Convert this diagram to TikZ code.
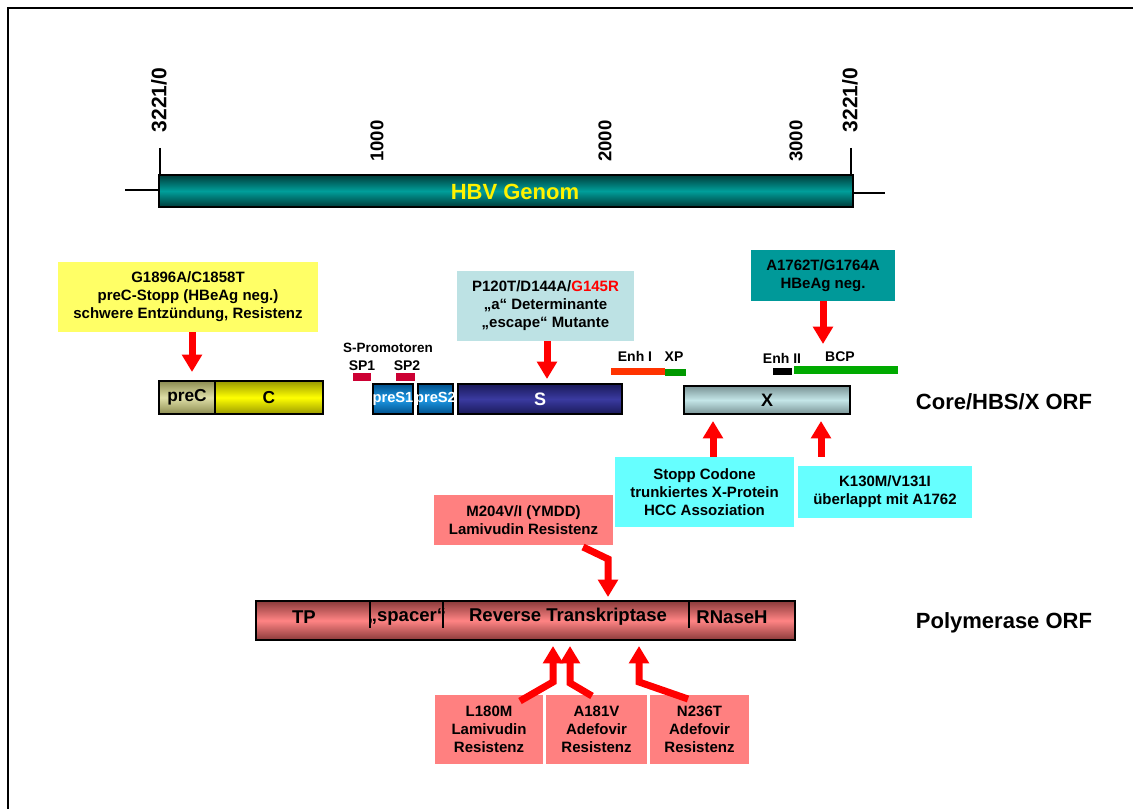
\documentclass[tikz,border=0pt]{standalone}
\usepackage{fontspec}
\setmainfont{Liberation Sans}
\usetikzlibrary{arrows.meta,fit}
\definecolor{genMid}{HTML}{009E9A}
\definecolor{genDark}{HTML}{003C3A}
\definecolor{yelBox}{HTML}{FFFF66}
\definecolor{lbBox}{HTML}{BDE2E4}
\definecolor{tealBox}{HTML}{009999}
\definecolor{cyBox}{HTML}{66FFFF}
\definecolor{pkBox}{HTML}{FF8080}
\definecolor{spRed}{HTML}{CC0033}
\definecolor{enhRed}{HTML}{FF3300}
\definecolor{xpGreen}{HTML}{009900}
\definecolor{bcpGreen}{HTML}{00AA00}
\definecolor{preCmid}{HTML}{E0E0A8}
\definecolor{preCdark}{HTML}{8C8C50}
\definecolor{Cmid}{HTML}{FFFF00}
\definecolor{Cdark}{HTML}{9A9A00}
\definecolor{psMid}{HTML}{1E9AE6}
\definecolor{psDark}{HTML}{00508C}
\definecolor{sMid}{HTML}{3A3AA0}
\definecolor{sDark}{HTML}{1A1A5A}
\definecolor{xMid}{HTML}{C4E6E8}
\definecolor{xDark}{HTML}{7A9496}
\definecolor{polMid}{HTML}{FF8484}
\definecolor{polDark}{HTML}{8A3A3A}
\begin{document}
\begin{tikzpicture}[x=0.75pt,y=-0.75pt,
  lbl/.style={font=\bfseries\fontsize{10.5}{12}\selectfont, inner sep=0},
  mbox/.style={fit={#1}, inner sep=0},
  btxt/.style={inner sep=0, align=center, font=\bfseries\fontsize{11.25}{13.5}\selectfont},
  gbar/.style={fit={#1}, inner sep=0, draw=black, line width=1.1pt},
  gtxt/.style={inner sep=0, font=\bfseries\fontsize{13}{14}\selectfont},
  thinbar/.style={fit={#1}, inner sep=0, draw=none},
  redarrow/.style={draw=red, line width=5.25pt, -{Triangle[width=14.5pt,length=13pt]}},
  ruler/.style={rotate=90, inner sep=0, font=\bfseries\fontsize{13.9}{15}\selectfont},
  orf/.style={inner sep=0, font=\bfseries\fontsize{16.5}{18}\selectfont},
  poltxt/.style={inner sep=0, font=\bfseries\fontsize{13.9}{15}\selectfont},
]
\useasboundingbox (0,0) rectangle (1133,809);
% frame
\draw[line width=1.5pt] (8,809) -- (8,8) -- (1133,8);

% genome bar
\node[gbar={(159,175) (853,207)}, top color=genDark, bottom color=genDark, middle color=genMid] (genome) {};
\node[inner sep=0, text=yellow, font=\bfseries\fontsize{16.5}{18}\selectfont] (genlbl) at (515,192) {HBV Genom};
\coordinate (gl) at (125,190);
\coordinate (gr) at (885,193);
\draw[line width=0.8pt] (gl) -- (gl -| genome.west);
\draw[line width=0.8pt] (gr -| genome.east) -- (gr);
\coordinate (tl) at (160,148);
\coordinate (tr) at (851,148);
\draw[line width=0.9pt] (tl) -- (tl |- genome.north);
\draw[line width=0.9pt] (tr) -- (tr |- genome.north);
\node[ruler, font=\bfseries\fontsize{15.75}{17}\selectfont] (r0) at (159,100) {3221/0};
\node[ruler] (r1) at (377,141) {1000};
\node[ruler] (r2) at (605,141) {2000};
\node[ruler] (r3) at (796,141) {3000};
\node[ruler, font=\bfseries\fontsize{15.75}{17}\selectfont] (r4) at (850,100) {3221/0};

% annotation boxes
\node[mbox={(58,262) (318,332)}, fill=yelBox] (ybox) {};
\node[btxt] (ytxt) at (ybox.center) {G1896A/C1858T\\preC-Stopp (HBeAg neg.)\\schwere Entzündung, Resistenz};
\node[mbox={(457,271) (634,341)}, fill=lbBox] (lbbox) {};
\node[btxt] (lbtxt) at (lbbox.center) {P120T/D144A/\textcolor{red}{G145R}\\„a“ Determinante\\„escape“ Mutante};
\node[mbox={(751,250) (895,301)}, fill=tealBox] (tbox) {};
\node[btxt] (ttxt) at (tbox.center) {A1762T/G1764A\\HBeAg neg.};
\node[mbox={(615,457) (794,527)}, fill=cyBox] (cbox1) {};
\node[btxt] (c1txt) at (cbox1.center) {Stopp Codone\\trunkiertes X-Protein\\HCC Assoziation};
\node[mbox={(798,466) (972,518)}, fill=cyBox] (cbox2) {};
\node[btxt] (c2txt) at (cbox2.center) {K130M/V131I\\überlappt mit A1762};
\node[mbox={(434,495) (613,545)}, fill=pkBox] (mbox) {};
\node[btxt] (mtxt) at (mbox.center) {M204V/I (YMDD)\\Lamivudin Resistenz};
\node[mbox={(435,695) (543,764)}, fill=pkBox] (pb1) {};
\node[btxt] (p1txt) at (pb1.center) {L180M\\Lamivudin\\Resistenz};
\node[mbox={(546,695) (647,764)}, fill=pkBox] (pb2) {};
\node[btxt] (p2txt) at (pb2.center) {A181V\\Adefovir\\Resistenz};
\node[mbox={(650,695) (749,764)}, fill=pkBox] (pb3) {};
\node[btxt] (p3txt) at (pb3.center) {N236T\\Adefovir\\Resistenz};

% ORF row
\node[gbar={(159,381) (215,414)}, top color=preCdark, bottom color=preCdark, middle color=preCmid] (preC) {};
\node[gtxt] (preCt) at (preC.center) {preC};
\node[gbar={(215,381) (323,414)}, top color=Cdark, bottom color=Cdark, middle color=Cmid] (C) {};
\node[gtxt] (Ct) at (C.center) {C};
\node[gbar={(373,384) (413,414)}, top color=psDark, bottom color=psDark, middle color=psMid] (preS1) {};
\node[gtxt, text=white, font=\bfseries\fontsize{11}{12}\selectfont] (preS1t) at (preS1.center) {preS1};
\node[gbar={(418,384) (453,414)}, top color=psDark, bottom color=psDark, middle color=psMid] (preS2) {};
\node[gtxt, text=white, font=\bfseries\fontsize{11}{12}\selectfont] (preS2t) at (preS2.center) {preS2};
\node[gbar={(458,384) (622,414)}, top color=sDark, bottom color=sDark, middle color=sMid] (S) {};
\node[gtxt, text=white, font=\bfseries\fontsize{13.5}{14}\selectfont] (St) at (S.center) {S};
\node[gbar={(684,386) (850,414)}, top color=xDark, bottom color=xDark, middle color=xMid] (X) {};
\node[gtxt, font=\bfseries\fontsize{13.5}{14}\selectfont] (Xt) at (X.center) {X};

\node[lbl, font=\bfseries\fontsize{10.1}{12}\selectfont] (sprom) at (388,348) {S-Promotoren};
\node[lbl] (sp1l) at (362,366) {SP1};
\node[lbl] (sp2l) at (407,366) {SP2};
\node[thinbar={(353,373) (371,381)}, fill=spRed] (sp1) {};
\node[thinbar={(396,373) (415,381)}, fill=spRed] (sp2) {};
\node[lbl] (enh1l) at (635,356) {Enh I};
\node[lbl] (xpl) at (674,357) {XP};
\node[lbl] (enh2l) at (782,358) {Enh II};
\node[lbl] (bcpl) at (840,357) {BCP};
\node[thinbar={(611,368) (665,375)}, fill=enhRed] (enh1) {};
\node[thinbar={(665,369) (686,376)}, fill=xpGreen] (xp) {};
\node[thinbar={(773,368) (792,375)}, fill=black] (enh2) {};
\node[thinbar={(794,366) (898,374)}, fill=bcpGreen] (bcp) {};

\node[orf] (orf1) at (1004,402) {Core/HBS/X ORF};
\node[orf] (orf2) at (1004,623) {Polymerase ORF};

% polymerase bar
\node[gbar={(256,601) (795,640)}, top color=polDark, bottom color=polDark, middle color=polMid] (pol) {};
\coordinate (d1) at (370,601);
\coordinate (d2) at (443,601);
\coordinate (d3) at (689,601);
\draw[line width=1pt] (d1) -- ++(0,27);
\draw[line width=1pt] (d2) -- ++(0,27);
\draw[line width=1pt] (d3) -- ++(0,27);
\node[poltxt] (tp) at (304,617) {TP};
\node[poltxt] (spacer) at (407,617) {„spacer“};
\node[poltxt] (rt) at (568,617) {Reverse Transkriptase};
\node[poltxt] (rnase) at (732,617) {RNaseH};

% arrows
\coordinate (a1) at (192,372);
\draw[redarrow] (ybox.south -| a1) -- (a1);
\coordinate (a2) at (547,379);
\draw[redarrow] (lbbox.south -| a2) -- (a2);
\coordinate (a3) at (823,344);
\draw[redarrow] (tbox.south -| a3) -- (a3);
\coordinate (a4) at (713,421);
\draw[redarrow] (cbox1.north -| a4) -- (a4);
\coordinate (s5) at (821,457);
\coordinate (a5) at (821,421);
\draw[redarrow] (s5) -- (a5);
\coordinate (s6) at (583,547);
\coordinate (a6) at (608,597);
\draw[redarrow] (s6) -- (608,559) -- (a6);
\coordinate (s7) at (520,701);
\coordinate (a7) at (553,646);
\draw[redarrow] (s7) -- (553,682) -- (a7);
\coordinate (s8) at (592,696);
\coordinate (a8) at (570,646);
\draw[redarrow] (s8) -- (570,683) -- (a8);
\coordinate (s9) at (688,699);
\coordinate (a9) at (639,646);
\draw[redarrow] (s9) -- (639,682) -- (a9);
\end{tikzpicture}
\end{document}
